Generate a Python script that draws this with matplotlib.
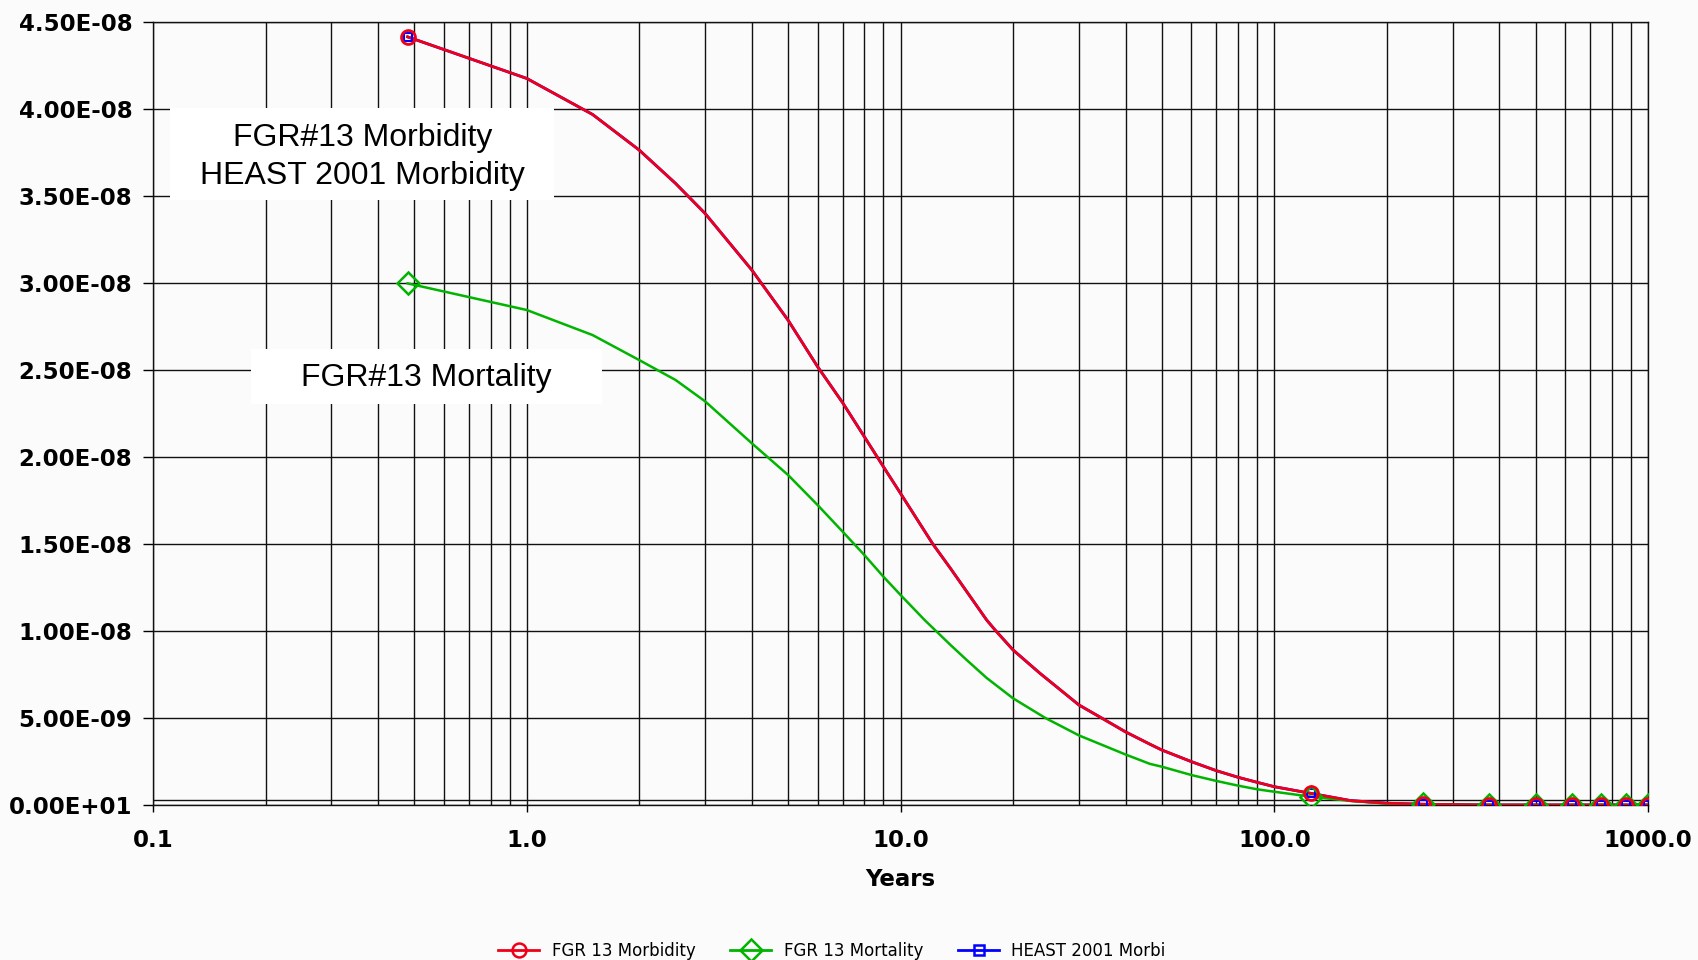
import matplotlib.pyplot as plt
from matplotlib.patches import Rectangle
from matplotlib.ticker import FixedLocator, NullFormatter

plt.rcParams['font.family'] = ['Liberation Sans', 'DejaVu Sans']

# FGR 13 morbidity (and HEAST 2001, which lies on top of it)
years_morb = [0.48, 1.0, 1.5, 2.0, 2.5, 3.0, 4.0, 5.0, 6.0, 7.0, 8.0, 9.0, 10.0, 12.2, 13.6,
              17.0, 18.0, 20.0, 23.6, 30.0, 34.5, 40.0, 46.5, 50.0, 60.0, 70.0, 80.0, 90.0,
              100.0, 125.0, 160.0, 200.0, 250.0, 375.0, 500.0, 625.0, 750.0, 875.0, 1000.0]
fgr_morbidity = [4.415, 4.176, 3.969, 3.764, 3.573, 3.40, 3.075, 2.787, 2.519, 2.312, 2.117,
                 1.944, 1.791, 1.50, 1.36, 1.063, 1.0, 0.891, 0.757, 0.575, 0.50, 0.42, 0.349,
                 0.316, 0.249, 0.197, 0.159, 0.130, 0.105, 0.067, 0.025, 0.010, 0.004, 0.0,
                 0.0, 0.0, 0.0, 0.0, 0.0]
heast_morbidity = fgr_morbidity

# FGR 13 mortality
years_mort = [0.48, 1.0, 1.5, 2.0, 2.5, 3.0, 4.0, 5.0, 6.0, 7.0, 8.0, 9.0, 10.0, 11.6, 13.6,
              15.0, 17.0, 20.0, 24.4, 30.0, 40.0, 46.5, 50.0, 60.0, 70.0, 80.0, 90.0, 100.0,
              125.0, 160.0, 200.0, 250.0, 375.0, 500.0, 625.0, 750.0, 875.0, 1000.0]
fgr_mortality = [2.998, 2.845, 2.701, 2.557, 2.443, 2.32, 2.079, 1.897, 1.724, 1.571, 1.437,
                 1.312, 1.207, 1.063, 0.92, 0.835, 0.73, 0.613, 0.50, 0.40, 0.29, 0.236, 0.220,
                 0.172, 0.138, 0.111, 0.090, 0.076, 0.048, 0.023, 0.008, 0.003, 0.0, 0.0, 0.0,
                 0.0, 0.0, 0.0]
scale = 1e-8  # values above are in units of 1E-08

# marker points
mark_years = [0.48, 125.0, 250.0, 375.0, 500.0, 625.0, 750.0, 875.0, 1000.0]
mark_morb = [4.415, 0.067, 0.004, 0.0, 0.0, 0.0, 0.0, 0.0, 0.0]
mark_mort = [2.998, 0.048, 0.003, 0.0, 0.0, 0.0, 0.0, 0.0, 0.0]
mark_heast = mark_morb

yticks = [0, 0.5e-8, 1.0e-8, 1.5e-8, 2.0e-8, 2.5e-8, 3.0e-8, 3.5e-8, 4.0e-8, 4.5e-8]
ytick_labels = ['0.00E+01', '5.00E-09', '1.00E-08', '1.50E-08', '2.00E-08', '2.50E-08',
                '3.00E-08', '3.50E-08', '4.00E-08', '4.50E-08']
xticks = [0.1, 1, 10, 100, 1000]
xtick_labels = ['0.1', '1.0', '10.0', '100.0', '1000.0']

bg = '#fbfbfb'
fig = plt.figure(figsize=(16.98, 9.6), dpi=100, facecolor=bg)
ax = fig.add_axes([0.0901, 0.1615, 0.8805, 0.8155], facecolor=bg)

red = '#f00018'
green = '#00b400'
blue = '#0000ff'

def sc(v):
    return [x * scale for x in v]

# blue under red
ax.plot(years_morb, sc(heast_morbidity), color=blue, lw=2, zorder=3)
ax.plot(years_mort, sc(fgr_mortality), color=green, lw=1.8, zorder=4)
ax.plot(years_morb, sc(fgr_morbidity), color=red, lw=2, zorder=5)
ax.plot(mark_years, sc(mark_heast), ls='none', marker='s', ms=6, mfc='none', mec=blue, mew=1.5, zorder=6)
ax.plot(mark_years, sc(mark_mort), ls='none', marker='D', ms=11, mfc='none', mec=green, mew=1.8, zorder=6)
ax.plot(mark_years, sc(mark_morb), ls='none', marker='o', ms=10, mfc='none', mec=red, mew=2, zorder=7)

# legend proxies
h1, = ax.plot([], [], color=red, lw=2, marker='o', ms=10, mfc='none', mew=1.8, label='FGR 13 Morbidity')
h2, = ax.plot([], [], color=green, lw=2, marker='D', ms=11, mfc='none', mew=1.8, label='FGR 13 Mortality')
h3, = ax.plot([], [], color=blue, lw=2, marker='s', ms=7, mfc='none', mew=1.8, label='HEAST 2001 Morbi')

ax.set_xscale('log')
ax.set_xlim(0.1, 1000)
ax.set_ylim(0, 4.5e-8)

tickfont = dict(family='DejaVu Sans', fontsize=16.5, fontweight='bold')
ax.xaxis.set_major_locator(FixedLocator(xticks))
ax.xaxis.set_minor_locator(FixedLocator([m * 10 ** e for e in range(-1, 3) for m in range(2, 10)]))
ax.xaxis.set_minor_formatter(NullFormatter())
ax.set_xticklabels(xtick_labels, **tickfont)
ax.set_yticks(yticks)
ax.set_yticklabels(ytick_labels, **tickfont)

ax.grid(True, which='major', color='#111111', lw=1.0, zorder=1)
ax.grid(True, which='minor', axis='x', color='#111111', lw=1.0, zorder=1)
ax.axhline(0.03e-8, color='#111111', lw=1.0, zorder=1)
ax.set_axisbelow(True)

ax.tick_params(axis='y', which='major', length=7, width=1, pad=8, direction='out')
ax.tick_params(axis='x', which='major', length=5, width=1, pad=12, direction='out')
ax.tick_params(axis='x', which='minor', length=0)
for s in ax.spines.values():
    s.set_color('#111111')
    s.set_linewidth(1.0)

ax.set_xlabel('Years', labelpad=12, **tickfont)

# annotation boxes
ax.add_patch(Rectangle((0.0114, 0.773), 0.2566, 0.117, transform=ax.transAxes,
                       facecolor='white', edgecolor='none', zorder=8))
ax.text(0.140, 0.828, 'FGR#13 Morbidity\nHEAST 2001 Morbidity', transform=ax.transAxes,
        ha='center', va='center', fontsize=23, linespacing=1.35, zorder=9)
ax.add_patch(Rectangle((0.0656, 0.512), 0.2344, 0.070, transform=ax.transAxes,
                       facecolor='white', edgecolor='none', zorder=8))
ax.text(0.183, 0.546, 'FGR#13 Mortality', transform=ax.transAxes,
        ha='center', va='center', fontsize=23, zorder=9)

fig.legend(handles=[h1, h2, h3], loc='center', bbox_to_anchor=(0.49, 0.0094), ncol=3,
           frameon=False, prop=dict(family='DejaVu Sans', size=12), handlelength=2.45,
           handletextpad=0.75, columnspacing=2.1)

fig.savefig('out.png', dpi=100, facecolor=bg)
